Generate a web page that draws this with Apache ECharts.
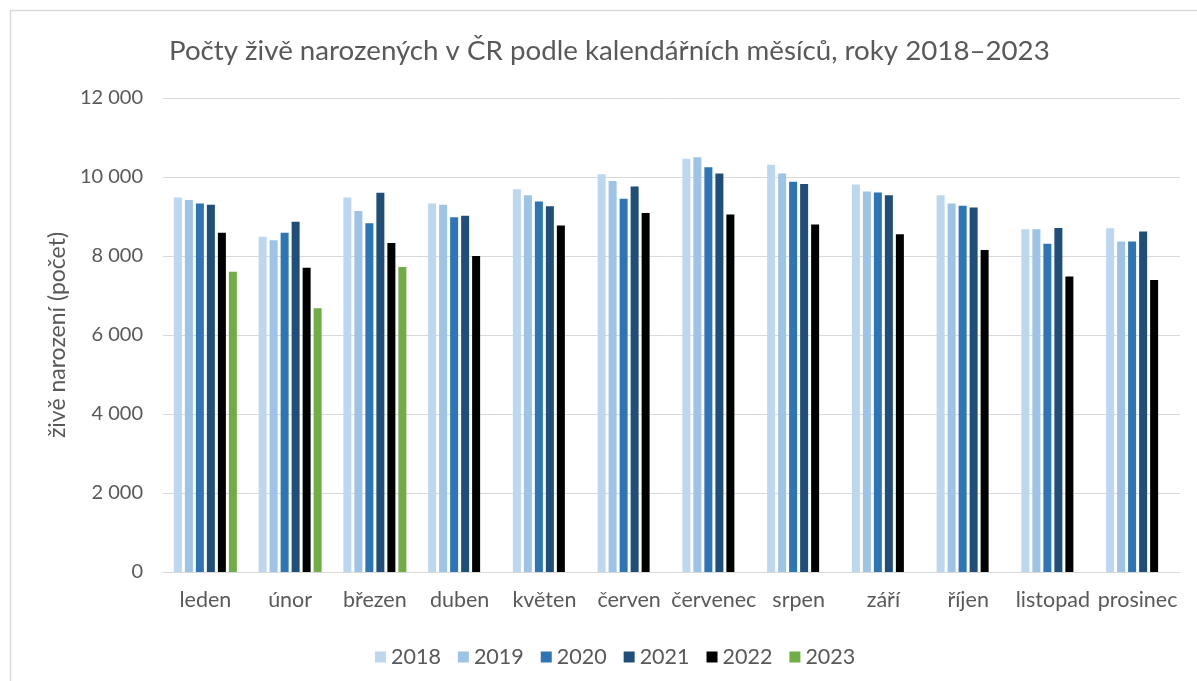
<!DOCTYPE html>
<html>
<head>
<meta charset="utf-8">
<script src="https://cdn.jsdelivr.net/npm/echarts@6/dist/echarts.min.js"></script>
<style>
html,body{margin:0;padding:0;background:#fff;}
#c{width:1197px;height:681px;}
</style>
</head>
<body>
<div id="c"></div>
<script>
const months = ['leden','únor','březen','duben','květen','červen','červenec','srpen','září','říjen','listopad','prosinec'];
const years = ['2018','2019','2020','2021','2022','2023'];
const v2018 = [9480, 8490, 9480, 9330, 9690, 10070, 10460, 10310, 9810, 9540, 8680, 8700];
const v2019 = [9420, 8400, 9140, 9300, 9540, 9900, 10500, 10090, 9630, 9330, 8680, 8370];
const v2020 = [9330, 8590, 8830, 8980, 9380, 9450, 10250, 9880, 9610, 9270, 8310, 8370];
const v2021 = [9300, 8870, 9600, 9020, 9260, 9760, 10090, 9820, 9540, 9230, 8710, 8620];
const v2022 = [8590, 7700, 8330, 8000, 8770, 9090, 9050, 8800, 8550, 8150, 7480, 7390];
const v2023 = [7600, 6680, 7720, null, null, null, null, null, null, null, null, null];
const yTicks = [0, 2000, 4000, 6000, 8000, 10000, 12000];
const colors = ['#BDD7EE', '#9DC3E6', '#2E75B6', '#1F4E79', '#000000', '#70AD47'];
const seriesData = [v2018, v2019, v2020, v2021, v2022, v2023];

const FONT = 'Lato, "Open Sans", sans-serif';
const chart = echarts.init(document.getElementById('c'));
chart.setOption({
  animation: false,
  color: colors,
  graphic: [{
    type: 'rect', left: 8, top: 8, z: -1,
    shape: { width: 1300, height: 800 },
    style: { fill: 'none', stroke: '#d9d9d9', lineWidth: 1.5 }
  }],
  title: {
    text: 'Počty živě narozených v ČR podle kalendářních měsíců, roky 2018–2023',
    left: 164, top: 32,
    textStyle: { fontFamily: FONT, fontSize: 27.7, fontWeight: 'normal', color: '#595959' }
  },
  legend: {
    data: years, top: 641, left: 370, itemWidth: 11, itemHeight: 11, itemGap: 17,
    icon: 'rect',
    textStyle: { fontFamily: FONT, fontSize: 21.5, color: '#595959' }
  },
  grid: { left: 163, right: 17, top: 98, bottom: 109 },
  xAxis: {
    type: 'category', data: months,
    axisLine: { lineStyle: { color: '#d9d9d9' } },
    axisTick: { show: false },
    axisLabel: { interval: 0, fontFamily: FONT, fontSize: 21.5, color: '#595959', margin: 17 }
  },
  yAxis: {
    type: 'value', min: 0, max: 12000, interval: 2000,
    name: 'živě narození (počet)', nameLocation: 'middle', nameGap: 91, nameRotate: 90,
    nameTextStyle: { fontFamily: FONT, fontSize: 23, color: '#595959' },
    axisLine: { show: false }, axisTick: { show: false },
    splitLine: { lineStyle: { color: '#d9d9d9' } },
    axisLabel: {
      fontFamily: FONT, fontSize: 20, color: '#595959', margin: 20,
      formatter: v => yTicks.includes(v) ? String(v).replace(/\B(?=(\d{3})+(?!\d))/g, ' ') : ''
    }
  },
  series: years.map((y, i) => ({
    name: y, type: 'bar', data: seriesData[i],
    barWidth: 8, barGap: '37.5%',
    itemStyle: { color: colors[i] }
  }))
});
</script>
</body>
</html>
